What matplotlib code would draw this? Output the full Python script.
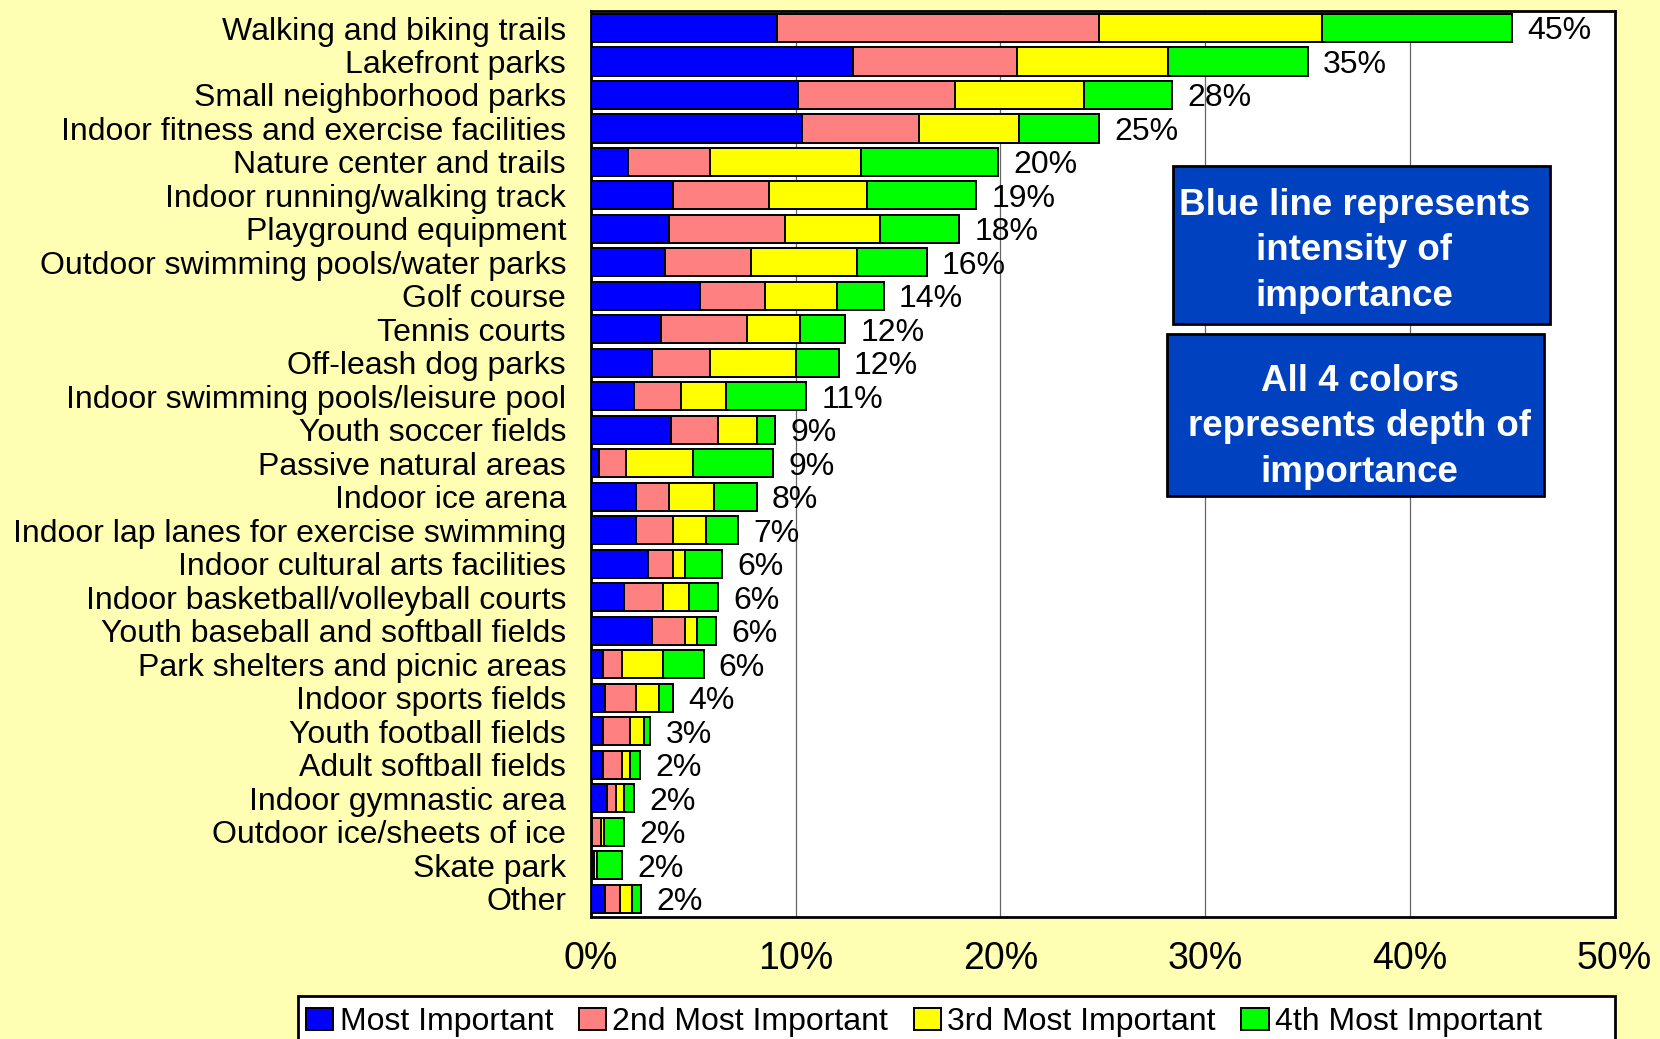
import numpy as np
import matplotlib.pyplot as plt
from matplotlib.patches import Patch, Rectangle

plt.rcParams['font.family'] = ['Liberation Sans', 'DejaVu Sans']

# Survey data (percent of respondents)
categories = [
    'Walking and biking trails', 'Lakefront parks', 'Small neighborhood parks',
    'Indoor fitness and exercise facilities', 'Nature center and trails',
    'Indoor running/walking track', 'Playground equipment',
    'Outdoor swimming pools/water parks', 'Golf course', 'Tennis courts',
    'Off-leash dog parks', 'Indoor swimming pools/leisure pool',
    'Youth soccer fields', 'Passive natural areas', 'Indoor ice arena',
    'Indoor lap lanes for exercise swimming', 'Indoor cultural arts facilities',
    'Indoor basketball/volleyball courts', 'Youth baseball and softball fields',
    'Park shelters and picnic areas', 'Indoor sports fields',
    'Youth football fields', 'Adult softball fields', 'Indoor gymnastic area',
    'Outdoor ice/sheets of ice', 'Skate park', 'Other',
]
most = [9.1, 12.8, 10.1, 10.3, 1.8, 4.0, 3.8, 3.6, 5.3, 3.4, 3.0, 2.1, 3.9, 0.4,
        2.2, 2.2, 2.8, 1.6, 3.0, 0.6, 0.7, 0.6, 0.6, 0.8, 0.05, 0.1, 0.7]
second = [15.7, 8.0, 7.7, 5.7, 4.0, 4.7, 5.7, 4.2, 3.2, 4.2, 2.8, 2.3, 2.3, 1.3,
          1.6, 1.8, 1.2, 1.9, 1.6, 0.9, 1.5, 1.3, 0.9, 0.4, 0.45, 0.05, 0.7]
third = [10.9, 7.4, 6.3, 4.9, 7.4, 4.8, 4.6, 5.2, 3.5, 2.6, 4.2, 2.2, 1.9, 3.3,
         2.2, 1.6, 0.6, 1.3, 0.6, 2.0, 1.1, 0.7, 0.4, 0.4, 0.15, 0.15, 0.6]
fourth = [9.3, 6.8, 4.3, 3.9, 6.7, 5.3, 3.9, 3.4, 2.3, 2.2, 2.1, 3.9, 0.9, 3.9,
          2.1, 1.6, 1.8, 1.4, 0.9, 2.0, 0.7, 0.3, 0.5, 0.5, 0.95, 1.2, 0.45]
total_labels = ['45%', '35%', '28%', '25%', '20%', '19%', '18%', '16%', '14%',
                '12%', '12%', '11%', '9%', '9%', '8%', '7%', '6%', '6%', '6%',
                '6%', '4%', '3%', '2%', '2%', '2%', '2%', '2%']
series_names = ['Most Important', '2nd Most Important', '3rd Most Important',
                '4th Most Important']
xticks = [0, 10, 20, 30, 40, 50]

colors = ['#0000FF', '#FF8080', '#FFFF00', '#00FF00']
bg = '#FFFFB3'
box_blue = '#0041C0'

W, H = 1660, 1039
fig = plt.figure(figsize=(W / 100, H / 100), dpi=100)
fig.patch.set_facecolor(bg)

ax = fig.add_axes([591 / W, 1 - 917 / H, (1614.6 - 591) / W, (917 - 10.6) / H])
ax.set_facecolor('white')

y = np.arange(len(categories))
left = np.zeros(len(categories))
for vals, c in zip([most, second, third, fourth], colors):
    ax.barh(y, vals, left=left, height=0.84, color=c, edgecolor='black',
            linewidth=1.4, zorder=3)
    left += np.array(vals)

for yi, tot, lab in zip(y, left, total_labels):
    ax.annotate(lab, (tot, yi), xytext=(11, -2.5), textcoords='offset points',
                va='center', ha='left', fontsize=23, zorder=4)

ax.set_xlim(0, 50)
ax.set_ylim(len(categories) - 0.45, -0.52)
ax.set_yticks(y)
ax.set_yticklabels(categories, fontsize=23)
ax.set_xticks(xticks)
ax.set_xticklabels([f'{v}%' for v in xticks], fontsize=27)
ax.tick_params(axis='y', length=0, pad=18)
ax.tick_params(axis='x', length=0, pad=17)
ax.grid(axis='x', color='#666666', linewidth=0.9, zorder=0)
for s in ax.spines.values():
    s.set_linewidth(2)
    s.set_color('black')

# explanation boxes
def note_box(x0, y0, x1, y1, lines, dx, dy):
    fig.patches.append(Rectangle((x0 / W, 1 - y1 / H), (x1 - x0) / W, (y1 - y0) / H,
                                 transform=fig.transFigure, facecolor=box_blue,
                                 edgecolor='black', linewidth=2, zorder=5))
    fig.text(((x0 + x1) / 2 + dx) / W, 1 - ((y0 + y1) / 2 + dy) / H, lines,
             color='white', fontsize=26.5, fontweight='bold', ha='center',
             va='center', linespacing=1.38, zorder=6)

note_box(1172.7, 165.7, 1550, 324, 'Blue line represents\nintensity of\nimportance', -7, 6)
note_box(1166.7, 334.3, 1544.3, 495.7, 'All 4 colors\nrepresents depth of\nimportance', 4, 12)

# legend with a frame reaching to the plot's right edge and off the bottom
fig.patches.append(Rectangle((297.5 / W, -0.02), (1614.6 - 297.5) / W, 0.02 + 1 - 995.5 / H,
                             transform=fig.transFigure, facecolor='white',
                             edgecolor='black', linewidth=2, zorder=1))
handles = [Patch(facecolor=c, edgecolor='black', linewidth=1.4) for c in colors]
fig.legend(handles, series_names, loc='upper left',
           bbox_to_anchor=(303 / W, 1 - 1004 / H), ncol=4, frameon=False,
           fontsize=23, handlelength=0.85, handleheight=0.65, handletextpad=0.2,
           columnspacing=0.8, borderpad=0.1, borderaxespad=0)

fig.savefig('out.png', dpi=100, facecolor=bg)
